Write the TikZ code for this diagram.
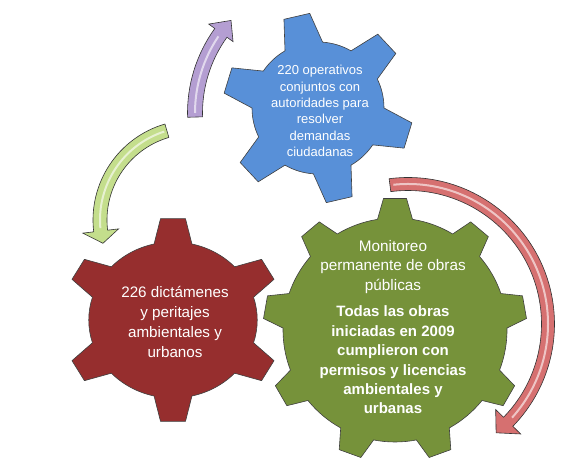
\documentclass[tikz,border=0pt]{standalone}
\usepackage{fontspec}
\setmainfont{Liberation Sans}
\usepackage{tikz}
\usetikzlibrary{positioning}
\definecolor{gearblue}{RGB}{88,144,216}
\definecolor{gearred}{RGB}{150,46,46}
\definecolor{geargreen}{RGB}{118,146,58}
\definecolor{arrowpurple}{RGB}{180,158,210}
\definecolor{arrowgreen}{RGB}{196,222,140}
\definecolor{arrowred}{RGB}{214,112,112}
\tikzset{>=stealth}
\tikzset{
  gear/.style={draw=black!75,line width=0.6pt,line join=round},
  cogarrow/.style={draw=black!80,line width=0.6pt,line join=miter},
  shine/.style={white,line width=2pt,opacity=0.6},
  geartext/.style={text=white,align=center,inner sep=0pt}
}
% #1 teeth, #2 body radius, #3 tip radius, #4 base half angle, #5 tip half angle, #6 first tooth
\newcommand{\gearshape}[6]{%
  (#6-#4:#2) \foreach \gi in {1,...,#1}{
    -- ({#6+(\gi-1)*360/#1-#5}:#3) -- ({#6+(\gi-1)*360/#1+#5}:#3)
    -- ({#6+(\gi-1)*360/#1+#4}:#2)
    arc[start angle={#6+(\gi-1)*360/#1+#4}, end angle={#6+\gi*360/#1-#4}, radius=#2]
  } -- cycle}
% #1 radius, #2 start, #3 end of body, #4 tip angle, #5 body width, #6 head width
\newcommand{\bentarrow}[6]{%
  (#2:#1+#5/2) arc[start angle=#2, end angle=#3, radius=#1+#5/2]
  -- (#3:#1+#6/2) -- (#4:#1) -- (#3:#1-#6/2) -- (#3:#1-#5/2)
  arc[start angle=#3, end angle=#2, radius=#1-#5/2] -- cycle}
\begin{document}
\begin{tikzpicture}[x=1pt,y=1pt]
  \useasboundingbox (0,0) rectangle (578,463);

  % gears
  \begin{scope}[shift={(318,355)}]
    \filldraw[gear,fill=gearblue] \gearshape{6}{66}{95}{17}{8}{103};
  \end{scope}
  \begin{scope}[shift={(173,143)},xscale=1.08]
    \filldraw[gear,fill=gearred] \gearshape{6}{78}{102}{13}{6.5}{90};
  \end{scope}
  \begin{scope}[shift={(395,133)}]
    \filldraw[gear,fill=geargreen] \gearshape{9}{112}{132}{9}{5}{90};
  \end{scope}

  % arrows
  \begin{scope}[shift={(332,350)}]
    \filldraw[cogarrow,fill=arrowpurple] \bentarrow{137}{181.7}{144.2}{137.5}{15}{30};
    \draw[shine] (180:137) arc[start angle=180, end angle=146, radius=137];
  \end{scope}
  \begin{scope}[shift={(193,243)}]
    \filldraw[cogarrow,fill=arrowgreen] \bentarrow{93}{106.3}{186.8}{194.5}{14}{36};
    \draw[shine] (108:93) arc[start angle=108, end angle=185, radius=93];
  \end{scope}
  \begin{scope}[shift={(408,139)}]
    \filldraw[cogarrow,fill=arrowred] \bentarrow{140}{97.4}{-44.3}{-51}{13}{35};
    \draw[shine] (96:140) arc[start angle=96, end angle=-42, radius=140];
  \end{scope}

  % texts
  \node[geartext,font=\fontsize{13}{16.3}\selectfont] (bluetxt) at (320,352)
    {220 operativos\\conjuntos con\\autoridades para\\resolver\\demandas\\ciudadanas};
  \node[geartext,font=\fontsize{15.2}{20}\selectfont] (redtxt) at (175,141)
    {226 dictámenes\\y peritajes\\ambientales y\\urbanos};
  \node[geartext,font=\fontsize{15.3}{19.5}\selectfont] (greentop) at (393,196)
    {Monitoreo\\permanente de obras\\públicas};
  \node[geartext,font=\fontsize{15}{19.4}\selectfont\bfseries,below=12pt of greentop] (greenbold)
    {Todas las obras\\iniciadas en 2009\\cumplieron con\\permisos y licencias\\ambientales y\\urbanas};
\end{tikzpicture}
\end{document}
